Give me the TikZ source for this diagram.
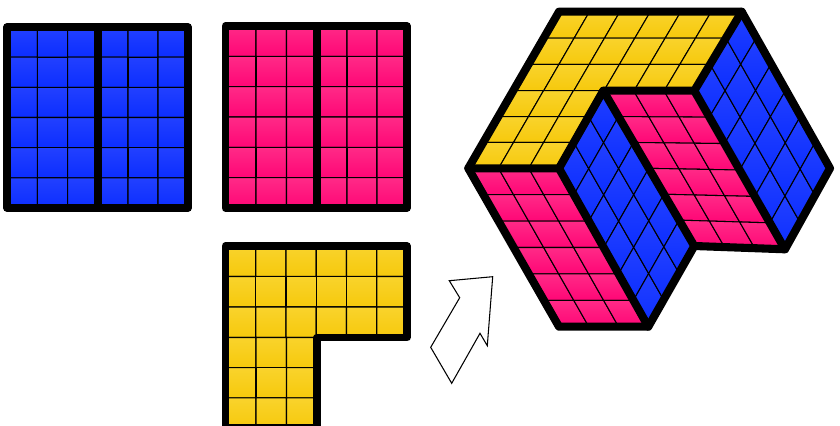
\documentclass[tikz,border=0pt]{standalone}
\usepackage{tikz}
\usetikzlibrary{calc}
\definecolor{bluetop}{RGB}{12,46,255}
\definecolor{bluebot}{RGB}{34,64,255}
\definecolor{pinktop}{RGB}{255,6,118}
\definecolor{pinkbot}{RGB}{255,42,135}
\definecolor{yellowtop}{RGB}{246,201,12}
\definecolor{yellowbot}{RGB}{249,211,44}
\tikzset{
  bluecell/.style={top color=bluebot,bottom color=bluetop},
  pinkcell/.style={top color=pinkbot,bottom color=pinktop},
  yellowcell/.style={top color=yellowbot,bottom color=yellowtop},
  cellline/.style={draw=black,line width=0.6pt},
  panel/.style={draw=black,line width=4.2pt,line join=round,line cap=round},
  cubeedge/.style={panel,line width=4.6pt},
}
\newcommand{\cellpatch}[7]{%
  \foreach \col in {1,...,#5} {
    \foreach \row in {1,...,#6} {
      \pgfmathsetmacro{\colA}{(\col-1)/#5}
      \pgfmathsetmacro{\colB}{\col/#5}
      \pgfmathsetmacro{\rowA}{(\row-1)/#6}
      \pgfmathsetmacro{\rowB}{\row/#6}
      \coordinate (upA) at ($(#1)!\colA!(#2)$);
      \coordinate (upB) at ($(#1)!\colB!(#2)$);
      \coordinate (lowA) at ($(#4)!\colA!(#3)$);
      \coordinate (lowB) at ($(#4)!\colB!(#3)$);
      \shadedraw[#7,cellline] ($(upA)!\rowA!(lowA)$) -- ($(upB)!\rowA!(lowB)$)
        -- ($(upB)!\rowB!(lowB)$) -- ($(upA)!\rowB!(lowA)$) -- cycle;
    }
  }
}
\begin{document}
\begin{tikzpicture}[x=0.02cm,y=-0.02cm]
\useasboundingbox (0,0) rectangle (840,426);
\begin{scope}
\clip (0,0) rectangle (840,426);
\coordinate (bl1) at (7,27);
\coordinate (bl2) at (98,27);
\coordinate (bl3) at (188,27);
\coordinate (bl4) at (188,208);
\coordinate (bl5) at (98,208);
\coordinate (bl6) at (7,208);
\cellpatch{bl1}{bl2}{bl5}{bl6}{3}{6}{bluecell}
\cellpatch{bl2}{bl3}{bl4}{bl5}{3}{6}{bluecell}
\draw[panel] (bl1) -- (bl3) -- (bl4) -- (bl6) -- cycle;
\draw[panel] (bl2) -- (bl5);
\coordinate (pk1) at (225.5,26);
\coordinate (pk2) at (317,26);
\coordinate (pk3) at (407,26);
\coordinate (pk4) at (407,208);
\coordinate (pk5) at (317,208);
\coordinate (pk6) at (225.5,208);
\cellpatch{pk1}{pk2}{pk5}{pk6}{3}{6}{pinkcell}
\cellpatch{pk2}{pk3}{pk4}{pk5}{3}{6}{pinkcell}
\draw[panel] (pk1) -- (pk3) -- (pk4) -- (pk6) -- cycle;
\draw[panel] (pk2) -- (pk5);
\coordinate (el1) at (225.5,246);
\coordinate (el2) at (407,246);
\coordinate (el3) at (407,337.5);
\coordinate (el4) at (317,337.5);
\coordinate (el5) at (317,428);
\coordinate (el6) at (225.5,428);
\coordinate (el7) at (225.5,337.5);
\cellpatch{el1}{el2}{el3}{el7}{6}{3}{yellowcell}
\cellpatch{el7}{el4}{el5}{el6}{3}{3}{yellowcell}
\draw[panel] (el1) -- (el2) -- (el3) -- (el4) -- (el5) -- (el6) -- cycle;
\end{scope}
\draw[line width=0.6pt,line join=miter] (449.3,280.7) -- (492.7,276.7) -- (487.3,345.7) -- (480,333.3)
  -- (451.7,383.3) -- (430.7,347.3) -- (459.7,297.7) -- cycle;
\coordinate (topL) at (559,11.7);
\coordinate (topR) at (741.7,11.7);
\coordinate (right) at (830,168.3);
\coordinate (backB) at (785,249.3);
\coordinate (backM) at (694.3,246);
\coordinate (frontB) at (648.3,326.7);
\coordinate (lowL) at (559,326.7);
\coordinate (left) at (468.3,168.3);
\coordinate (mid) at (559,168.3);
\coordinate (notch) at (603.3,90.7);
\coordinate (inner) at (694.3,90.7);
\coordinate (yelM) at (513.6,90.7);
\cellpatch{topL}{topR}{inner}{yelM}{6}{3}{yellowcell}
\cellpatch{yelM}{notch}{mid}{left}{3}{3}{yellowcell}
\cellpatch{left}{mid}{frontB}{lowL}{3}{6}{pinkcell}
\cellpatch{mid}{notch}{backM}{frontB}{3}{6}{bluecell}
\cellpatch{notch}{inner}{backB}{backM}{3}{6}{pinkcell}
\cellpatch{inner}{topR}{right}{backB}{3}{6}{bluecell}
\draw[cubeedge] (topL) -- (topR) -- (right) -- (backB) -- (backM) -- (frontB) -- (lowL) -- (left) -- cycle;
\draw[cubeedge] (left) -- (mid) -- (notch) -- (inner) -- (topR);
\draw[cubeedge] (mid) -- (frontB);
\draw[cubeedge] (notch) -- (backM);
\draw[cubeedge] (inner) -- (backB);
\end{tikzpicture}
\end{document}
